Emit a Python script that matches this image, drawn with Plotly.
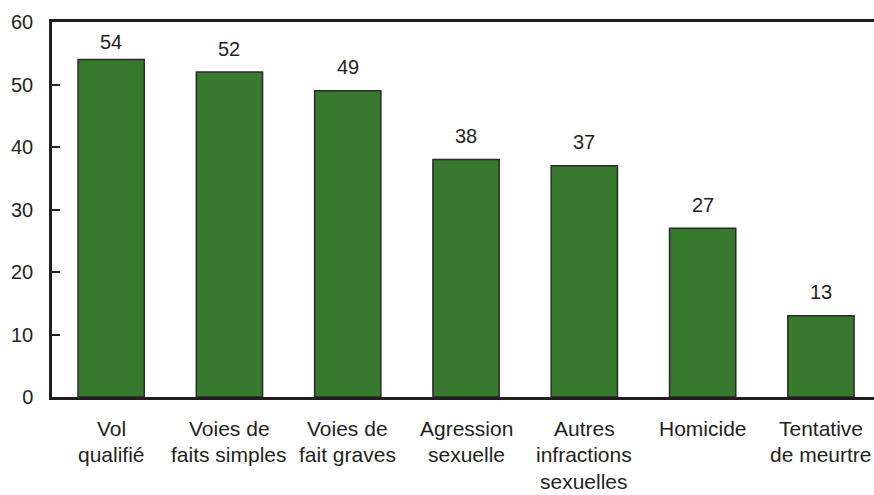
import plotly.graph_objects as go

# Data
categories = [
    ["Vol", "qualifié"],
    ["Voies de", "faits simples"],
    ["Voies de", "fait graves"],
    ["Agression", "sexuelle"],
    ["Autres", "infractions", "sexuelles"],
    ["Homicide"],
    ["Tentative", "de meurtre"],
]
values = [54, 52, 49, 38, 37, 27, 13]
y_ticks = [0, 10, 20, 30, 40, 50, 60]

BAR_GREEN = "#377a2d"
INK = "#231f20"
FONT = "Liberation Sans, Arial, sans-serif"

W, H = 874, 495
M_L, M_T, M_B, M_R = 52, 22, 98, 0
plot_h = H - M_T - M_B
px_per_unit = plot_h / 60.0
cat_px = 118.3
x_max = -0.5 + (W - M_L - M_R) / cat_px

idx = list(range(len(categories)))

fig = go.Figure()
fig.add_trace(go.Bar(
    x=idx,
    y=values,
    width=0.56,
    marker=dict(color=BAR_GREEN, line=dict(color="#2a2a2a", width=1.5)),
    hoverinfo="skip",
))

annotations = []
# value labels above each bar, kept clear of the top frame line
for i, v in zip(idx, values):
    lab_y = min(v + 23.5 / px_per_unit, 60 - 20 / px_per_unit)
    annotations.append(dict(
        x=i, y=lab_y, xref="x", yref="y", text=str(v), showarrow=False,
        xanchor="center", yanchor="middle",
        font=dict(family=FONT, size=20, color=INK),
    ))

# multi-line category labels under the axis
for i, lines in zip(idx, categories):
    for j, line in enumerate(lines):
        annotations.append(dict(
            x=i, y=0, xref="x", yref="y", text=line, showarrow=False,
            xanchor="center", yanchor="middle", yshift=-(31 + 26.5 * j),
            font=dict(family=FONT, size=21, color=INK),
        ))

fig.update_layout(
    width=W, height=H,
    margin=dict(l=M_L, r=M_R, t=M_T, b=M_B, pad=0),
    paper_bgcolor="white", plot_bgcolor="white",
    showlegend=False,
    annotations=annotations,
    font=dict(family=FONT, size=20, color=INK),
    xaxis=dict(
        range=[-0.5, x_max],
        showticklabels=False, ticks="",
        showgrid=False, zeroline=False,
        showline=True, linecolor=INK, linewidth=2.5, mirror=True,
        fixedrange=True,
    ),
    yaxis=dict(
        range=[0, 60],
        tickvals=y_ticks,
        ticktext=[str(t) for t in y_ticks],
        ticks="inside", ticklen=8, tickwidth=2, tickcolor=INK,
        ticklabelstandoff=12,
        showgrid=False, zeroline=False,
        showline=True, linecolor=INK, linewidth=2.5,
        tickfont=dict(family=FONT, size=20, color=INK),
        fixedrange=True,
    ),
)

fig.write_html("out.html", config={"displayModeBar": False})
